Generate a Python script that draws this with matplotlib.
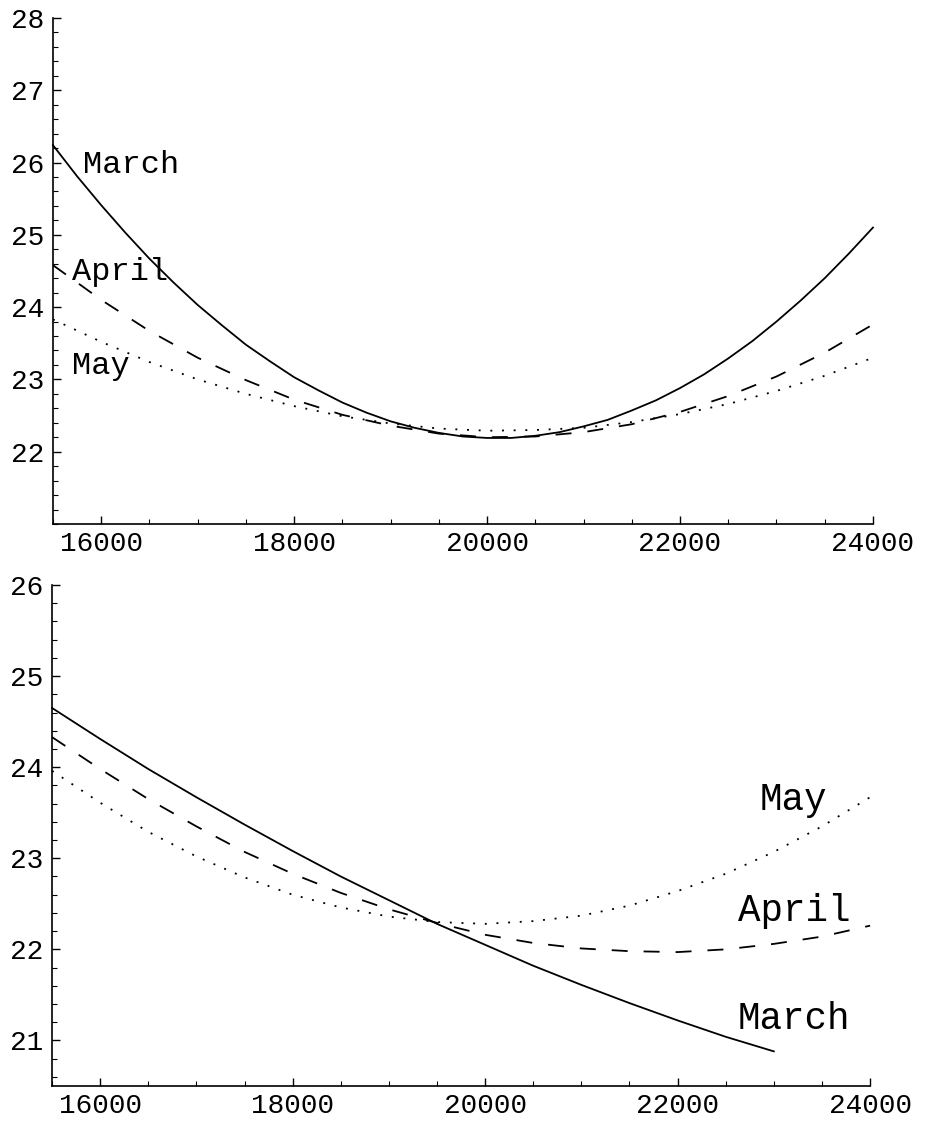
import matplotlib
matplotlib.use("Agg")
import matplotlib.pyplot as plt
from matplotlib.ticker import MultipleLocator

plt.rcParams["font.family"] = ["Liberation Mono", "DejaVu Sans Mono"]
plt.rcParams["lines.scale_dashes"] = False

# x grid shared by most curves
x = [15500, 16000, 16500, 17000, 17500, 18000, 18500, 19000, 19500,
     20000, 20500, 21000, 21500, 22000, 22500, 23000, 23500, 24000]
# finer grid for the strongly curved top March curve
x_fine = [15500, 15750, 16000, 16250, 16500, 16750, 17000, 17250, 17500,
          17750, 18000, 18250, 18500, 18750, 19000, 19250, 19500, 19750,
          20000, 20250, 20500, 20750, 21000, 21250, 21500, 21750, 22000,
          22250, 22500, 22750, 23000, 23250, 23500, 23750, 24000]

# top panel
top_march = [26.24, 25.81, 25.41, 25.03, 24.67, 24.34, 24.03, 23.75, 23.48,
             23.25, 23.03, 22.85, 22.68, 22.54, 22.42, 22.33, 22.26, 22.21,
             22.19, 22.19, 22.22, 22.27, 22.35, 22.44, 22.57, 22.71, 22.88,
             23.07, 23.29, 23.53, 23.80, 24.09, 24.40, 24.74, 25.10]
top_april = [24.58, 24.10, 23.67, 23.30, 22.99, 22.72, 22.51, 22.36, 22.25,
             22.20, 22.21, 22.27, 22.38, 22.55, 22.77, 23.04, 23.37, 23.76]
top_may   = [23.83, 23.52, 23.24, 23.00, 22.80, 22.63, 22.49, 22.39, 22.32,
             22.29, 22.30, 22.33, 22.41, 22.52, 22.66, 22.84, 23.05, 23.30]

# bottom panel (March stops at 23000)
bot_march = [24.65, 24.31, 23.98, 23.67, 23.37, 23.08, 22.80, 22.54, 22.28,
             22.05, 21.82, 21.61, 21.41, 21.22, 21.04, 20.88]
bot_april = [24.33, 23.98, 23.65, 23.35, 23.07, 22.83, 22.62, 22.44, 22.29,
             22.16, 22.07, 22.01, 21.98, 21.97, 22.00, 22.06, 22.14, 22.26]
bot_may   = [23.96, 23.61, 23.29, 23.02, 22.79, 22.60, 22.46, 22.36, 22.30,
             22.28, 22.31, 22.37, 22.48, 22.64, 22.83, 23.07, 23.35, 23.67]

SOLID  = "-"
DASHED = (0, (11.5, 11.5))
DOTTED = (0, (1.4, 7.0))
LW = 1.3

fig = plt.figure(figsize=(9.26, 11.22), dpi=100)
fig.patch.set_facecolor("white")

ax1 = fig.add_axes([0.0572, 0.533, 0.8855, 0.451])
ax2 = fig.add_axes([0.0562, 0.0321, 0.8834, 0.4465])

def style_axes(ax, ylo, yhi):
    ax.set_xlim(15500, 24000)
    ax.set_ylim(ylo, yhi)
    for s in ("top", "right"):
        ax.spines[s].set_visible(False)
    for s in ("left", "bottom"):
        ax.spines[s].set_linewidth(1.2)
    ax.xaxis.set_major_locator(MultipleLocator(2000))
    ax.xaxis.set_minor_locator(MultipleLocator(500))
    ax.yaxis.set_major_locator(MultipleLocator(1))
    ax.yaxis.set_minor_locator(MultipleLocator(0.2))
    ax.tick_params(which="major", direction="in", length=6, width=1.0,
                   labelsize=20, colors="black")
    ax.tick_params(which="minor", direction="in", length=3.5, width=0.8)
    ax.tick_params(axis="y", which="major", pad=6)
    ax.tick_params(axis="x", which="major", pad=5)
    ax.set_yticks([t for t in range(int(ylo) + 1, int(yhi) + 1)])

style_axes(ax1, 21, 28)
ax1.plot(x_fine, top_march, color="black", lw=LW, linestyle=SOLID, clip_on=False)
ax1.plot(x, top_april, color="black", lw=LW, linestyle=DASHED, clip_on=False)
ax1.plot(x, top_may, color="black", lw=LW, linestyle=DOTTED, clip_on=False)
ax1.text(15807, 25.86, "March", fontsize=23, ha="left", va="baseline")
ax1.text(15700, 24.37, "April", fontsize=23, ha="left", va="baseline")
ax1.text(15700, 23.07, "May", fontsize=23, ha="left", va="baseline")

style_axes(ax2, 20.5, 26)
ax2.plot(x[:len(bot_march)], bot_march, color="black", lw=LW, linestyle=SOLID, clip_on=False)
ax2.plot(x, bot_april, color="black", lw=LW, linestyle=DASHED, clip_on=False)
ax2.plot(x, bot_may, color="black", lw=LW, linestyle=DOTTED, clip_on=False)
ax2.text(22857, 23.53, "May", fontsize=27, ha="left", va="baseline")
ax2.text(22629, 22.31, "April", fontsize=27, ha="left", va="baseline")
ax2.text(22625, 21.13, "March", fontsize=27, ha="left", va="baseline")

fig.savefig("out.png", dpi=100, facecolor="white")
